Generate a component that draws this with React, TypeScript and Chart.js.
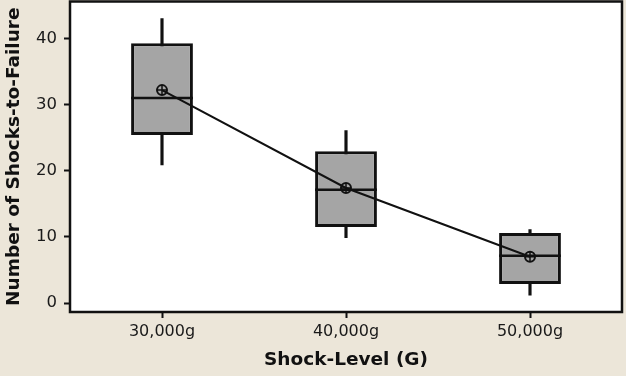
import React, { useEffect, useRef } from 'react';
import { Chart, registerables } from 'chart.js';

Chart.register(...registerables);

const categories = ['30,000g', '40,000g', '50,000g'];
const whiskerLow = [20.9, 9.9, 1.2];
const q1 = [25.4, 11.5, 2.9];
const median = [31.0, 17.15, 7.15];
const q3 = [39.3, 22.95, 10.6];
const whiskerHigh = [43.0, 26.1, 11.1];
const mean = [32.2, 17.4, 7.0];
const yTicks = [0, 10, 20, 30, 40];

export default function App() {
  const ref = useRef<HTMLCanvasElement>(null);

  useEffect(() => {
    document.body.style.margin = '0';
    if (!ref.current) return;

    const framePlugin = {
      id: 'frame',
      beforeDraw(chart: any) {
        const { ctx, chartArea: a, width, height } = chart;
        ctx.save();
        ctx.fillStyle = '#ECE6D9';
        ctx.fillRect(0, 0, width, height);
        ctx.fillStyle = '#ffffff';
        ctx.fillRect(a.left, a.top, a.right - a.left, a.bottom - a.top);
        ctx.restore();
      },
      afterDraw(chart: any) {
        const { ctx, chartArea: a } = chart;
        ctx.save();
        ctx.strokeStyle = '#111111';
        ctx.lineWidth = 2.5;
        ctx.strokeRect(a.left, a.top, a.right - a.left, a.bottom - a.top);
        ctx.restore();
      },
    };

    const medianPlugin = {
      id: 'medianLines',
      afterDatasetsDraw(chart: any) {
        const { ctx } = chart;
        const meta = chart.getDatasetMeta(1);
        const ys = chart.scales.y;
        ctx.save();
        ctx.strokeStyle = '#111111';
        ctx.lineWidth = 2.5;
        meta.data.forEach((bar: any, i: number) => {
          const { x, width } = bar.getProps(['x', 'width'], true);
          const py = ys.getPixelForValue(median[i]);
          ctx.beginPath();
          ctx.moveTo(x - width / 2, py);
          ctx.lineTo(x + width / 2, py);
          ctx.stroke();
        });
        ctx.restore();
      },
    };

    const zeroPad = (s: any) => {
      s.paddingTop = 0;
      s.paddingBottom = 0;
      s.paddingLeft = 0;
      s.paddingRight = 0;
    };

    const chart = new Chart(ref.current, {
      type: 'bar',
      data: {
        labels: categories,
        datasets: [
          {
            type: 'bar',
            data: whiskerLow.map((v, i) => [v, whiskerHigh[i]]) as any,
            backgroundColor: '#111111',
            barThickness: 2.5,
            grouped: false,
            order: 3,
          } as any,
          {
            type: 'bar',
            data: q1.map((v, i) => [v, q3[i]]) as any,
            backgroundColor: '#A5A5A5',
            borderColor: '#111111',
            borderWidth: 3,
            borderSkipped: false,
            barPercentage: 0.336,
            categoryPercentage: 1,
            grouped: false,
            order: 2,
          } as any,
          {
            type: 'line',
            data: mean,
            borderColor: '#111111',
            borderWidth: 2,
            tension: 0,
            pointStyle: 'circle',
            pointRadius: 5,
            pointBorderWidth: 2,
            pointBorderColor: '#111111',
            pointBackgroundColor: 'rgba(0,0,0,0)',
            order: 1,
          } as any,
          {
            type: 'line',
            data: mean,
            showLine: false,
            pointStyle: 'cross',
            pointRadius: 5,
            pointBorderWidth: 1.5,
            pointBorderColor: '#111111',
            order: 0,
          } as any,
        ],
      },
      options: {
        responsive: false,
        animation: false,
        devicePixelRatio: 1,
        layout: { autoPadding: false, padding: { top: 1.5, right: 4, bottom: 0, left: 0 } },
        plugins: {
          legend: { display: false },
          tooltip: { enabled: false },
        },
        scales: {
          x: {
            type: 'category',
            offset: true,
            grid: {
              offset: false,
              drawOnChartArea: false,
              drawTicks: true,
              tickLength: 6,
              tickColor: '#111111',
              tickWidth: 2,
            },
            border: { display: false },
            ticks: {
              color: '#1a1a1a',
              font: { family: 'DejaVu Sans', size: 16 },
              padding: 4,
              maxRotation: 0,
            },
            title: {
              display: true,
              text: 'Shock-Level (G)',
              color: '#111111',
              font: { family: 'DejaVu Sans', weight: 'bold', size: 18.5 },
              padding: { top: 0, bottom: 5 },
            },
            afterFit(s: any) {
              s.height = 64;
              zeroPad(s);
            },
          },
          y: {
            type: 'linear',
            min: -1.35,
            max: 45.6,
            afterBuildTicks(axis: any) {
              axis.ticks = yTicks.map((v) => ({ value: v }));
            },
            grid: {
              drawOnChartArea: false,
              drawTicks: true,
              tickLength: 6,
              tickColor: '#111111',
              tickWidth: 2,
            },
            border: { display: false },
            ticks: {
              color: '#1a1a1a',
              font: { family: 'DejaVu Sans', size: 16.5 },
              padding: 7,
            },
            title: {
              display: true,
              text: 'Number of Shocks-to-Failure',
              color: '#111111',
              font: { family: 'DejaVu Sans', weight: 'bold', size: 18.5 },
              padding: { top: 3, bottom: 0 },
            },
            afterFit(s: any) {
              s.width = 70;
              zeroPad(s);
            },
          },
        },
      } as any,
      plugins: [framePlugin, medianPlugin],
    });

    return () => chart.destroy();
  }, []);

  return <canvas ref={ref} width={626} height={376} style={{ display: 'block' }} />;
}
